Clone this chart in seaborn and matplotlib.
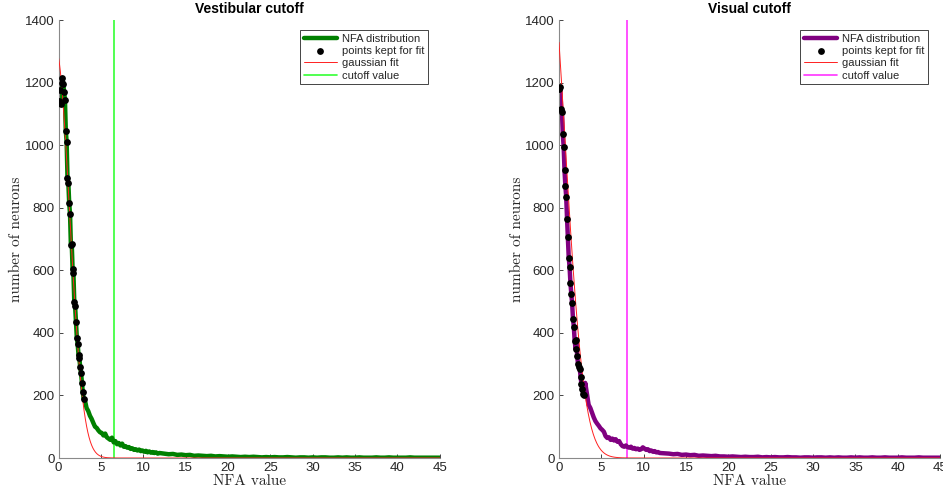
import numpy as np
import pandas as pd
import matplotlib
matplotlib.use("Agg")
import matplotlib.pyplot as plt
import seaborn as sns

# ---------------- data ----------------
bin_step_head = 0.1
bin_step_mid = 0.2
bin_step_tail = 0.5

# Vestibular histogram (counts per NFA bin)
vest_head = [1140, 1175, 1130, 1200, 1215, 1195, 1170, 1145, 1045, 1010,
             895, 880, 815, 780, 680, 685, 605, 590, 500, 485,
             435, 385, 365, 330, 320, 290, 272, 240, 212, 190]
vest_mid = [185, 160, 150, 135, 125, 112, 100, 96, 88, 82, 80, 72, 78, 66, 62,
            58, 65, 50, 54, 44, 48, 40, 46, 36, 38, 33, 35, 29, 31, 26,
            28, 24, 27, 22, 24, 20, 23, 18, 21, 17, 19, 16, 18, 14, 16]
vest_tail = [14, 12, 13, 10, 11, 9, 10, 7, 8, 7, 6, 7, 5, 6, 5, 4, 5, 4, 3, 4,
             3, 4, 3, 2, 3, 2, 3, 2, 2, 3, 2, 1, 2, 2, 1, 2, 1, 2, 2, 1,
             1, 2, 1, 2, 1, 1, 2, 1, 1, 1, 2, 1, 1, 2, 1, 1, 1, 1, 2, 1,
             1, 1, 1, 1, 1, 1]

# Visual histogram
vis_head = [1180, 1185, 1115, 1105, 1035, 995, 920, 870, 835, 765,
            705, 640, 610, 560, 525, 495, 445, 420, 375, 350,
            378, 325, 300, 292, 286, 260, 235, 222, 206, 200]
vis_mid = [240, 205, 170, 160, 145, 130, 118, 110, 103, 95, 90, 84, 70, 64, 66,
           58, 62, 56, 60, 52, 54, 44, 38, 36, 40, 35, 33, 36, 30, 32,
           28, 30, 26, 28, 34, 30, 26, 28, 22, 24, 20, 22, 18, 19, 16]
vis_tail = [15, 14, 12, 13, 10, 11, 9, 10, 7, 8, 7, 6, 7, 5, 5, 4, 5, 4, 3, 4,
            3, 3, 4, 2, 3, 2, 3, 2, 2, 3, 2, 2, 1, 2, 2, 1, 2, 2, 1, 2,
            1, 2, 1, 1, 2, 1, 2, 1, 1, 2, 1, 1, 2, 1, 1, 1, 2, 1, 1, 1,
            2, 1, 1, 1, 1, 1]

# Gaussian fit parameters (amplitude, centre, width)
vest_fit = (1302, -0.31, 1.60)
vis_fit = (1684, -1.55, 2.25)

# cutoff values
vest_cutoff = 6.55
vis_cutoff = 8.0

titles = ["Vestibular cutoff", "Visual cutoff"]
x_ticks = [0, 5, 10, 15, 20, 25, 30, 35, 40, 45]
y_ticks = [0, 200, 400, 600, 800, 1000, 1200, 1400]
legend_labels = ["NFA distribution", "points kept for fit", "gaussian fit", "cutoff value"]


def build(head, mid, tail):
    xh = 0.05 + bin_step_head * np.arange(len(head))
    xm = 3.1 + bin_step_mid * np.arange(len(mid))
    xt = 12.5 + bin_step_tail * np.arange(len(tail))
    dist = pd.DataFrame({"x": np.concatenate([xh, xm, xt]),
                         "y": np.array(head + mid + tail, dtype=float)})
    kept = pd.DataFrame({"x": xh, "y": np.array(head, dtype=float)})
    return dist, kept


panels = [
    (build(vest_head, vest_mid, vest_tail), vest_fit, vest_cutoff, "#008000", "#33FF33"),
    (build(vis_head, vis_mid, vis_tail), vis_fit, vis_cutoff, "#800080", "#FF33FF"),
]

# ---------------- figure ----------------
sns.set_style("ticks")
plt.rcParams["font.family"] = ["Liberation Sans", "DejaVu Sans"]

W, H = 943, 498
fig = plt.figure(figsize=(W / 100, H / 100), dpi=100)
ax_rects = [
    [58.6 / W, 1 - 458 / H, 381.2 / W, 438 / H],
    [559.0 / W, 1 - 458 / H, 381.0 / W, 438 / H],
]

grid = np.linspace(0, 45, 900)

for i, ((dist, kept), (a, m, s), cut, col, cutcol) in enumerate(panels):
    ax = fig.add_axes(ax_rects[i])
    sns.lineplot(data=dist, x="x", y="y", ax=ax, color=col, lw=3.2,
                 label=legend_labels[0], sort=True, estimator=None, zorder=2)
    sns.scatterplot(data=kept, x="x", y="y", ax=ax, color="black", s=24,
                    edgecolor="black", linewidth=0, label=legend_labels[1], zorder=4)
    fit = pd.DataFrame({"x": grid, "y": a * np.exp(-(grid - m) ** 2 / (2 * s ** 2))})
    sns.lineplot(data=fit, x="x", y="y", ax=ax, color="#FF2020", lw=0.7,
                 label=legend_labels[2], estimator=None, zorder=3)
    ax.axvline(cut, color=cutcol, lw=1.2, label=legend_labels[3], zorder=1)

    ax.set_xlim(0, 45)
    ax.set_ylim(0, 1400)
    ax.set_xticks(x_ticks)
    ax.set_yticks(y_ticks)
    ax.tick_params(direction="in", length=3, width=0.6, color="#262626",
                   labelsize=9.5, labelcolor="#262626", pad=3)
    for sp in ["top", "right"]:
        ax.spines[sp].set_visible(False)
    for sp in ["left", "bottom"]:
        ax.spines[sp].set_color("#8a8a8a")
        ax.spines[sp].set_linewidth(0.8)

    ax.set_title(titles[i], fontsize=10, fontweight="bold", pad=5, color="black")
    ax.set_xlabel("NFA value", family="cmr10", fontsize=11, labelpad=0, color="#262626")
    ax.set_ylabel("number of neurons", family="cmr10", fontsize=11, labelpad=1, color="#262626")

    leg = ax.legend(loc="upper right", bbox_to_anchor=(1 - 12 / 381, 1 - 10 / 438),
                    borderaxespad=0, fontsize=8, frameon=True, fancybox=False,
                    framealpha=1, edgecolor="#262626", handlelength=3.0,
                    handletextpad=0.4, borderpad=0.35, labelspacing=0.2,
                    markerscale=1.0)
    leg.get_frame().set_linewidth(0.6)

fig.savefig("out.png", dpi=100)
